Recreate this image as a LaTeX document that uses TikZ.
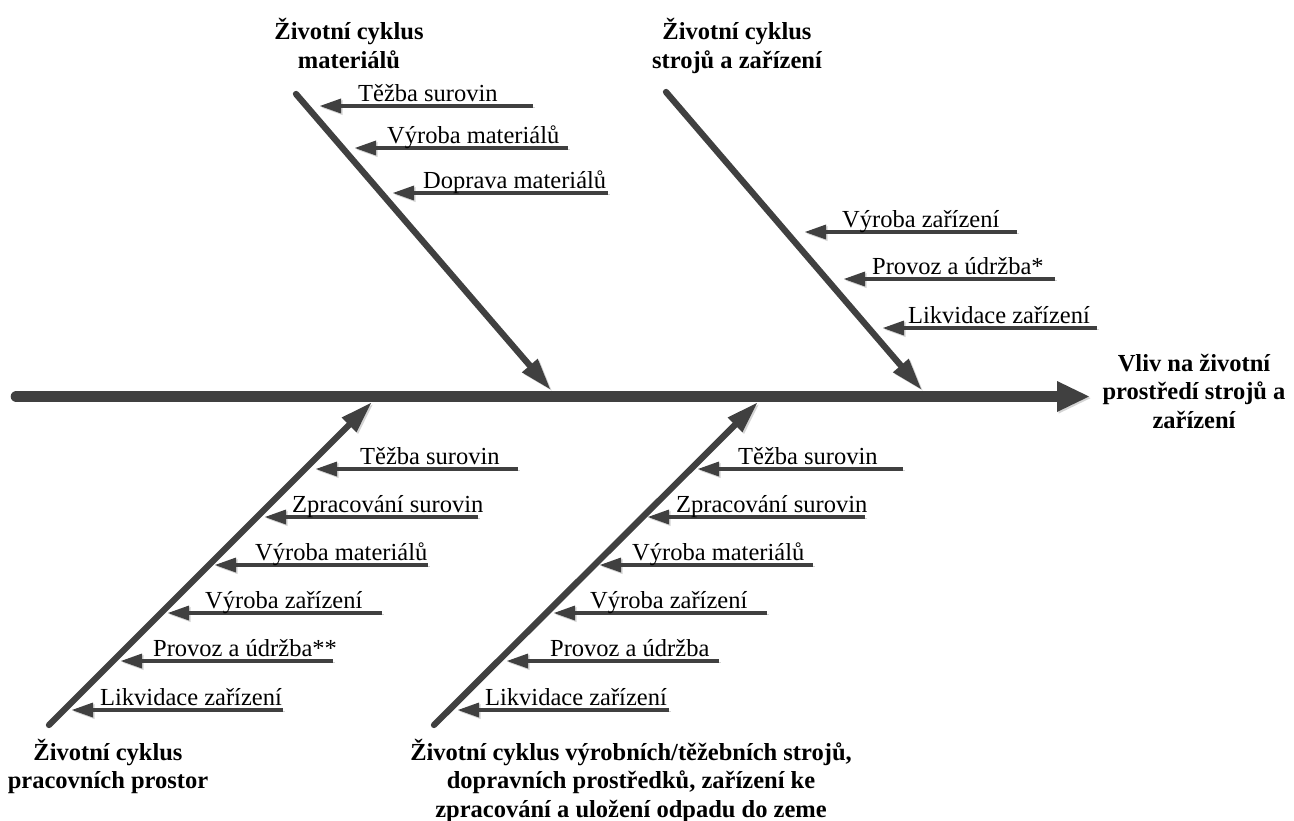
\documentclass[tikz,border=0pt]{standalone}
\usepackage{fontspec}
\setmainfont{Liberation Serif}
\usetikzlibrary{arrows.meta}
\definecolor{bonegray}{HTML}{404040}
\definecolor{shadowgray}{HTML}{D4D4D4}
\begin{document}
\begin{tikzpicture}[x=1pt,y=-1pt,
  softshadow/.style={preaction={draw=shadowgray,
    transform canvas={shift={(1.6pt,-1.6pt)}}}},
  spine/.style={draw=bonegray, line width=11.6pt, line cap=round, softshadow,
    -{Triangle[length=32pt,width=31pt,line width=0pt]}},
  bonearrow/.style={draw=bonegray, line width=6.3pt, line cap=round, softshadow,
    -{Triangle[length=31pt,width=21pt,line width=0pt]}},
  cause/.style={draw=bonegray, line width=3.4pt, softshadow,
    -{Triangle[length=21pt,width=15pt,line width=0pt]}},
  causetext/.style={anchor=base west, inner sep=0pt,
    font=\fontsize{24.5}{27}\selectfont},
  title/.style={anchor=base, inner sep=0pt,
    font=\fontsize{24.5}{28.5}\selectfont\bfseries},
]
\useasboundingbox (0,0) rectangle (1294,821);

% main spine and effect
\coordinate (spineL) at (16.5,396.5);
\coordinate (spineR) at (1089,396.5);
\draw[spine] (spineL) -- (spineR);
\node[title] (effect) at (1194,371)
  {\begin{tabular}[t]{@{}c@{}}Vliv na životní\\prostředí strojů a\\zařízení\end{tabular}};

% main bones
\coordinate (b1s) at (296,94);   \coordinate (b1e) at (550,389);
\coordinate (b2s) at (666,92);   \coordinate (b2e) at (921,389);
\coordinate (b3s) at (49,725);   \coordinate (b3e) at (371,403);
\coordinate (b4s) at (434,725);  \coordinate (b4e) at (757,403);
\draw[bonearrow] (b1s) -- (b1e);
\draw[bonearrow] (b2s) -- (b2e);
\draw[bonearrow] (b3s) -- (b3e);
\draw[bonearrow] (b4s) -- (b4e);

% bone titles
\node[title] (cat1) at (349,40)
  {\begin{tabular}[t]{@{}c@{}}Životní cyklus\\materiálů\end{tabular}};
\node[title] (cat2) at (737,40)
  {\begin{tabular}[t]{@{}c@{}}Životní cyklus\\strojů a zařízení\end{tabular}};
\node[title] (cat3) at (108,760)
  {\begin{tabular}[t]{@{}c@{}}Životní cyklus\\pracovních prostor\end{tabular}};
\node[title] (cat4) at (631,760)
  {\begin{tabular}[t]{@{}c@{}}Životní cyklus výrobních/těžebních strojů,\\dopravních prostředků, zařízení ke\\zpracování a uložení odpadu do zeme\end{tabular}};

% causes: name / line y / right end / tip / text left / text
\foreach \n/\y/\xr/\xt/\xl/\txt in {
  m1/106/533/320/358/{Těžba surovin},
  m2/148/568/355/387/{Výroba materiálů},
  m3/193/608/393/423/{Doprava materiálů},
  s1/232/1017/805/842/{Výroba zařízení},
  s2/279/1055/844/872/{Provoz a údržba*},
  s3/328/1097/883/908/{Likvidace zařízení},
  p1/469/518/316/360/{Těžba surovin},
  p2/517/478/265/292/{Zpracování surovin},
  p3/565/428/215/255/{Výroba materiálů},
  p4/613/382/168/205/{Výroba zařízení},
  p5/661/333/121/153/{Provoz a údržba**},
  p6/710/283/72/100/{Likvidace zařízení},
  v1/469/903/698/738/{Těžba surovin},
  v2/517/865/648/676/{Zpracování surovin},
  v3/565/813/600/632/{Výroba materiálů},
  v4/613/767/554/590/{Výroba zařízení},
  v5/661/719/507/550/{Provoz a údržba},
  v6/710/669/458/485/{Likvidace zařízení}}{
  \coordinate (\n-from) at (\xr,\y);
  \coordinate (\n-to) at (\xt,\y);
  \draw[cause] (\n-from) -- (\n-to);
  \node[causetext] (\n-label) at (\xl,{\y-4.5}) {\txt};
}
\end{tikzpicture}
\end{document}
